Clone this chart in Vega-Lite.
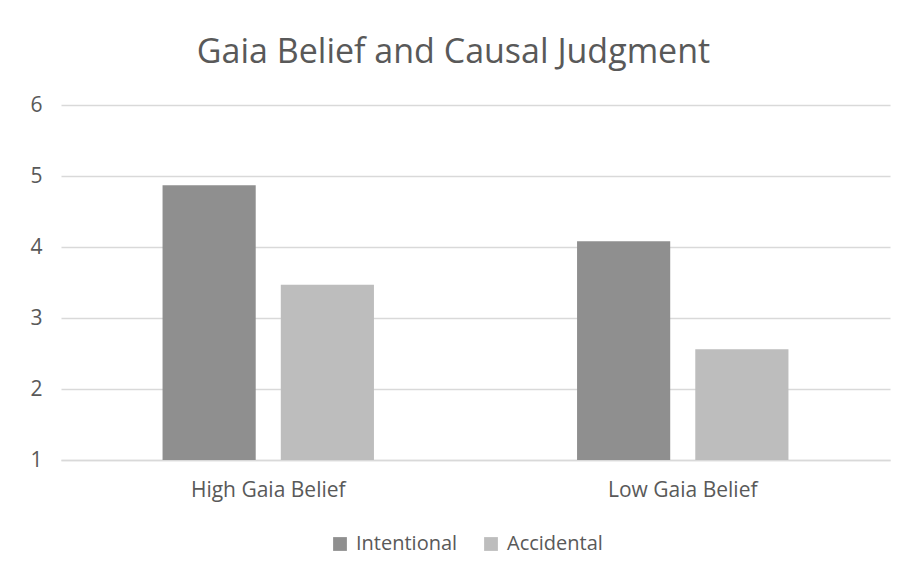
{
  "$schema": "https://vega.github.io/schema/vega-lite/v6.json",
  "autosize": "none",
  "width": 829,
  "height": 355,
  "padding": {"left": 61, "top": 105, "right": 16, "bottom": 117},
  "background": "white",
  "config": {
    "font": "Open Sans",
    "view": {"stroke": null}
  },
  "title": {
    "text": "Gaia Belief and Causal Judgment",
    "fontSize": 34,
    "font": "Open Sans",
    "fontWeight": "normal",
    "color": "#595959",
    "anchor": "middle",
    "dx": -22,
    "offset": 24
  },
  "data": {
    "values": [
      {"group": "High Gaia Belief", "type": "Intentional", "value": 4.87},
      {"group": "High Gaia Belief", "type": "Accidental", "value": 3.47},
      {"group": "Low Gaia Belief", "type": "Intentional", "value": 4.08},
      {"group": "Low Gaia Belief", "type": "Accidental", "value": 2.56}
    ]
  },
  "mark": {"type": "bar"},
  "encoding": {
    "x": {
      "field": "group",
      "type": "nominal",
      "sort": ["High Gaia Belief", "Low Gaia Belief"],
      "scale": {"paddingInner": 0.49, "paddingOuter": 0.245},
      "axis": {
        "title": null,
        "labelAngle": 0,
        "labelFontSize": 21,
        "labelColor": "#595959",
        "labelPadding": 19,
        "ticks": false,
        "domainColor": "#d9d9d9",
        "domainWidth": 1.5,
        "grid": false
      }
    },
    "xOffset": {
      "field": "type",
      "type": "nominal",
      "sort": ["Intentional", "Accidental"],
      "scale": {"paddingInner": 0.212, "paddingOuter": 0}
    },
    "y": {
      "field": "value",
      "type": "quantitative",
      "scale": {"domain": [1, 6], "nice": false, "zero": false},
      "axis": {
        "title": null,
        "values": [1, 2, 3, 4, 5, 6],
        "labelFontSize": 21,
        "labelColor": "#595959",
        "labelPadding": 19,
        "ticks": false,
        "domain": false,
        "gridColor": "#d9d9d9",
        "gridWidth": 1.5
      }
    },
    "y2": {"datum": 1},
    "color": {
      "field": "type",
      "type": "nominal",
      "sort": ["Intentional", "Accidental"],
      "scale": {"domain": ["Intentional", "Accidental"], "range": ["#8f8f8f", "#bdbdbd"]},
      "legend": {
        "title": null,
        "orient": "none",
        "legendX": 269,
        "legendY": 429,
        "direction": "horizontal",
        "symbolType": "square",
        "symbolSize": 190,
        "symbolStrokeWidth": 0,
        "labelFontSize": 20,
        "labelColor": "#595959",
        "labelOffset": 6,
        "columnPadding": 23
      }
    }
  }
}
